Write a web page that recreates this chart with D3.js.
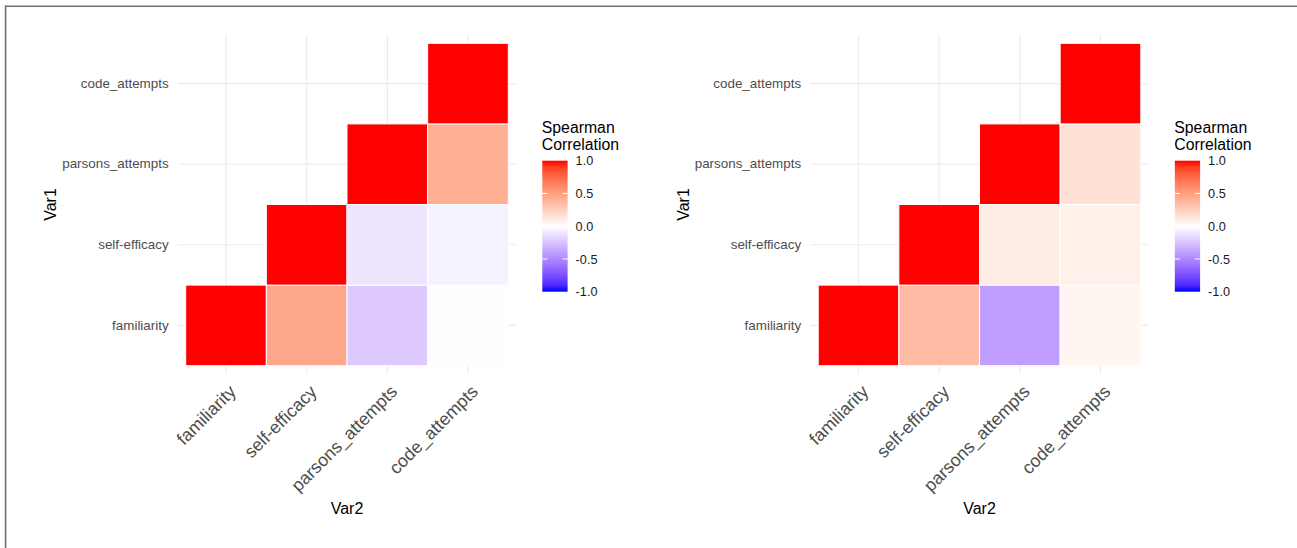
<!DOCTYPE html>
<html>
<head>
<meta charset="utf-8">
<script src="https://cdn.jsdelivr.net/npm/d3@7"></script>
<style>
  html, body { margin: 0; padding: 0; background: #ffffff; }
  svg { display: block; }
  text { font-family: "Liberation Sans", Arial, sans-serif; }
</style>
</head>
<body>
<svg id="chart" width="1297" height="548"></svg>
<script>
// Variables shown on both axes (bottom-to-top on Var1, left-to-right on Var2)
const variables = ["familiarity", "self-efficacy", "parsons_attempts", "code_attempts"];

// Upper-triangle pairs (Var1 = row, Var2 = column)
const pairVar1 = ["familiarity", "familiarity", "familiarity", "familiarity",
                  "self-efficacy", "self-efficacy", "self-efficacy",
                  "parsons_attempts", "parsons_attempts",
                  "code_attempts"];
const pairVar2 = ["familiarity", "self-efficacy", "parsons_attempts", "code_attempts",
                  "self-efficacy", "parsons_attempts", "code_attempts",
                  "parsons_attempts", "code_attempts",
                  "code_attempts"];

// Spearman correlations for the two groups
const rhoLeft  = [1, 0.46, -0.22, -0.01, 1, -0.11, -0.06, 1, 0.42, 1];
const rhoRight = [1, 0.36, -0.41, 0.05, 1, 0.10, 0.08, 1, 0.16, 1];

// Colour bar breaks and their labels
const legendBreaks = [1, 0.5, 0, -0.5, -1];
const legendLabels = ["1.0", "0.5", "0.0", "-0.5", "-1.0"];

const legendTitle = ["Spearman", "Correlation"];
const xTitle = "Var2";
const yTitle = "Var1";

const svg = d3.select("#chart");

// Diverging fill: blue → white → red, interpolated in Lab space
const fill = d3.scaleLinear()
  .domain([-1, 0, 1])
  .range(["#0000ff", "#ffffff", "#ff0000"])
  .interpolate(d3.interpolateLab);

// Frame around the figure
svg.append("line").attr("x1", 5).attr("x2", 1297).attr("y1", 6.3).attr("y2", 6.3)
  .attr("stroke", "#6e6e6e").attr("stroke-width", 1.6);
svg.append("line").attr("x1", 5.6).attr("x2", 5.6).attr("y1", 5.5).attr("y2", 548)
  .attr("stroke", "#6e6e6e").attr("stroke-width", 1.6);

// Gradient used by the colour bar
const defs = svg.append("defs");
const grad = defs.append("linearGradient").attr("id", "corrGrad")
  .attr("x1", 0).attr("y1", 1).attr("x2", 0).attr("y2", 0);
d3.range(0, 1.0001, 0.05).forEach(t => {
  grad.append("stop").attr("offset", t).attr("stop-color", fill(-1 + 2 * t));
});

function drawPanel(dx, values) {
  const g = svg.append("g").attr("transform", `translate(${dx},0)`);

  // Tile area and panel (panel extends 0.1 band beyond the tiles)
  const tileLeft = 185.7, tileRight = 508.3, tileTop = 43.3, tileBottom = 365.7;
  const x = d3.scaleBand().domain(variables).range([tileLeft, tileRight]);
  const y = d3.scaleBand().domain(variables).range([tileBottom, tileTop]);
  const bw = x.bandwidth(), bh = y.bandwidth();
  const panelLeft = tileLeft - 0.1 * bw, panelRight = tileRight + 0.1 * bw;
  const panelTop = tileTop - 0.1 * bh, panelBottom = tileBottom + 0.1 * bh;

  // Major grid lines
  const grid = g.append("g");
  grid.selectAll("line.v").data(variables).join("line").attr("class", "v")
    .attr("x1", d => x(d) + bw / 2).attr("x2", d => x(d) + bw / 2)
    .attr("y1", panelTop).attr("y2", panelBottom)
    .attr("stroke", "#ebebeb").attr("stroke-width", 1.1);
  grid.selectAll("line.h").data(variables).join("line").attr("class", "h")
    .attr("y1", d => y(d) + bh / 2).attr("y2", d => y(d) + bh / 2)
    .attr("x1", panelLeft).attr("x2", panelRight)
    .attr("stroke", "#ebebeb").attr("stroke-width", 1.1);

  // Tiles
  const cells = pairVar1.map((v1, i) => ({ v1, v2: pairVar2[i], r: values[i] }));
  g.append("g").selectAll("rect").data(cells).join("rect")
    .attr("x", d => x(d.v2)).attr("y", d => y(d.v1))
    .attr("width", bw).attr("height", bh)
    .attr("fill", d => fill(d.r))
    .attr("stroke", "#ffffff").attr("stroke-width", 1);

  // Y axis (Var1)
  const yAxis = g.append("g").attr("transform", `translate(${panelLeft},0)`)
    .call(d3.axisLeft(y).tickSize(0).tickPadding(9));
  yAxis.select(".domain").remove();
  yAxis.selectAll("text").attr("font-size", 13.4).attr("fill", "#4d4d4d")
    .attr("font-family", "Liberation Sans, Arial, sans-serif");

  // X axis (Var2), labels rotated 45°
  const xAxis = g.append("g").attr("transform", `translate(0,${panelBottom})`)
    .call(d3.axisBottom(x).tickSize(0));
  xAxis.select(".domain").remove();
  xAxis.selectAll("text")
    .attr("font-size", 17.8).attr("fill", "#4d4d4d")
    .attr("font-family", "Liberation Sans, Arial, sans-serif")
    .attr("text-anchor", "end")
    .attr("x", 0).attr("y", 0).attr("dy", "0.72em")
    .attr("transform", "translate(2,10) rotate(-45)");

  // Axis titles
  g.append("text").attr("x", (panelLeft + panelRight) / 2).attr("y", 514)
    .attr("text-anchor", "middle").attr("font-size", 16).attr("fill", "#000")
    .text(xTitle);
  g.append("text")
    .attr("transform", `translate(56,${(panelTop + panelBottom) / 2}) rotate(-90)`)
    .attr("text-anchor", "middle").attr("font-size", 16).attr("fill", "#000")
    .text(yTitle);

  // Colour bar legend
  const barX = 542.3, barW = 25.3;
  const ly = d3.scaleLinear().domain([-1, 1]).range([291.7, 160.7]);
  g.append("g").selectAll("text").data(legendTitle).join("text")
    .attr("x", barX - 0.5).attr("y", (d, i) => 132.5 + i * 17.5)
    .attr("font-size", 15.8).attr("fill", "#000").text(d => d);
  g.append("rect").attr("x", barX).attr("y", ly(1))
    .attr("width", barW).attr("height", ly(-1) - ly(1))
    .attr("fill", "url(#corrGrad)");
  const ticks = g.append("g");
  legendBreaks.filter(b => Math.abs(b) < 1).forEach(b => {
    ticks.append("line").attr("x1", barX).attr("x2", barX + barW / 5)
      .attr("y1", ly(b)).attr("y2", ly(b)).attr("stroke", "#fff").attr("stroke-width", 1);
    ticks.append("line").attr("x1", barX + barW - barW / 5).attr("x2", barX + barW)
      .attr("y1", ly(b)).attr("y2", ly(b)).attr("stroke", "#fff").attr("stroke-width", 1);
  });
  const lAxis = g.append("g").attr("transform", `translate(${barX + barW},0)`)
    .call(d3.axisRight(ly).tickValues(legendBreaks)
      .tickFormat((d, i) => legendLabels[i]).tickSize(0).tickPadding(8));
  lAxis.select(".domain").remove();
  lAxis.selectAll("text").attr("font-size", 12.7).attr("fill", "#1a1a1a")
    .attr("font-family", "Liberation Sans, Arial, sans-serif");
}

drawPanel(0, rhoLeft);
drawPanel(632.5, rhoRight);
</script>
</body>
</html>
